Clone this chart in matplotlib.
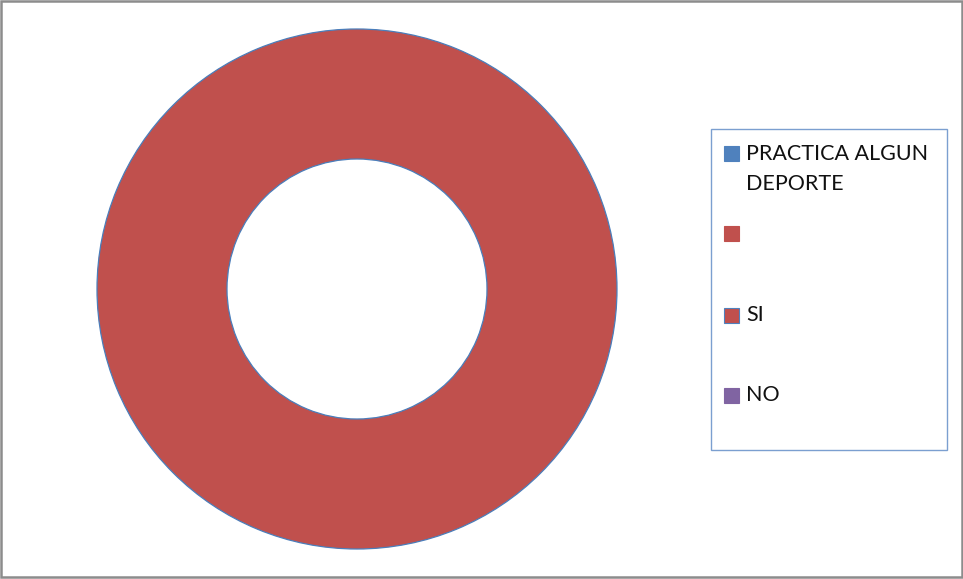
import textwrap
import matplotlib
matplotlib.use("Agg")
import matplotlib.pyplot as plt
from matplotlib.patches import Rectangle

# data
labels = ["PRACTICA ALGUN DEPORTE", "", "SI", "NO"]
values = [0, 100, 0, 0]
face_colors = ["#4F81BD", "#C0504D", "#C0504D", "#8064A2"]
edge_colors = ["#4F81BD", "#C0504D", "#4F81BD", "#8064A2"]

W, H = 963, 579
fig = plt.figure(figsize=(W / 100, H / 100), dpi=100)
plt.rcParams['font.family'] = ['Lato', 'DejaVu Sans']


def fx(px):
    return px / W


def fy(py):
    return 1 - py / H


# outer frame
fig.patches.append(Rectangle((fx(1), fy(577)), fx(961), 576 / H, transform=fig.transFigure,
                             fill=False, edgecolor="#8c8c8c", linewidth=1.8))

# donut
ax = fig.add_axes([fx(97), fy(549), fx(520), 520 / H])
wedges, _ = ax.pie(values, colors=face_colors, startangle=90, counterclock=False,
                   radius=1, wedgeprops=dict(width=0.5, edgecolor="#4a7ebb", linewidth=0.9))
for w, v in zip(wedges, values):
    if v == 0:
        w.set_visible(False)
ax.set_xlim(-1, 1)
ax.set_ylim(-1, 1)
ax.set_aspect("equal")
ax.axis("off")

# legend box
fig.patches.append(Rectangle((fx(710.5), fy(449.5)), fx(236.5), 320.5 / H, transform=fig.transFigure,
                             fill=False, edgecolor="#7b9fd0", linewidth=1.0))
entry_y = [153.5, 233.5, 315, 395]
for lab, fc, ec, y in zip(labels, face_colors, edge_colors, entry_y):
    fig.patches.append(Rectangle((fx(724), fy(y + 7.5)), fx(15), 15 / H, transform=fig.transFigure,
                                 facecolor=fc, edgecolor=ec, linewidth=0.8))
    for i, line in enumerate(textwrap.wrap(lab, 15)):
        fig.text(fx(746), fy(y + i * 31), line, fontsize=15.5, color="#111111",
                 va="center", ha="left")

fig.savefig("out.png", dpi=100)
